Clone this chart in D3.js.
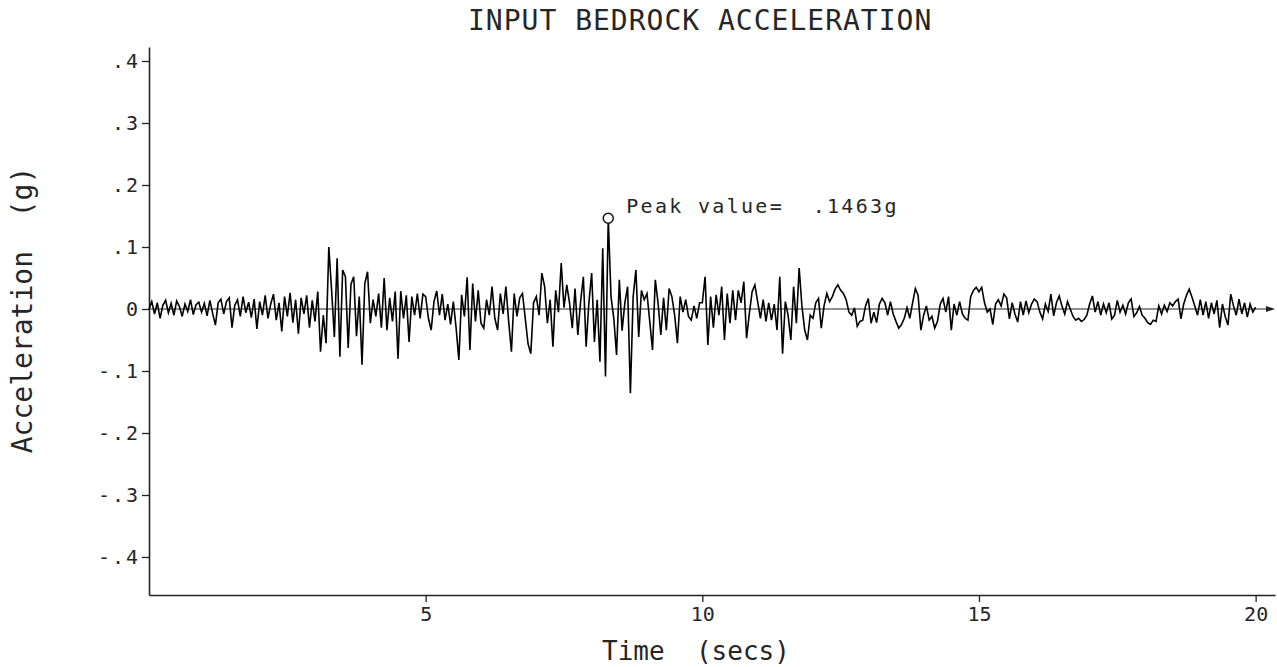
<!DOCTYPE html>
<html>
<head>
<meta charset="utf-8">
<script src="https://cdn.jsdelivr.net/npm/d3@7"></script>
<style>
  body { margin: 0; background: #fff; }
  text { font-family: "DejaVu Sans Mono", monospace; fill: #262626; }
</style>
</head>
<body>
<svg width="1277" height="667"></svg>
<script>
// sampled trace, dt = 0.05 s, values in g
const dt = 0.05;
const accel00to05 = [
  0.000, 0.012, -0.008, 0.010, -0.015, 0.006, 0.014, -0.006, 0.009, -0.010, 0.013, 0.004, -0.012, 0.008, -0.004, 0.015, -0.009, 0.007, 0.011, -0.005,
  0.009, -0.011, 0.014, -0.007, -0.026, 0.010, 0.016, -0.008, 0.012, 0.018, -0.030, 0.006, 0.015, -0.012, 0.020, -0.006, 0.011, -0.014, 0.016, -0.032,
  0.012, -0.010, 0.022, -0.015, 0.008, 0.024, -0.018, 0.010, -0.036, 0.020, -0.012, 0.026, -0.022, 0.015, -0.040, 0.018, -0.008, 0.022, -0.030, 0.014,
  -0.020, 0.028, -0.069, -0.010, -0.055, 0.100, 0.030, -0.045, 0.082, -0.077, 0.063, 0.052, -0.063, 0.040, 0.052, -0.044, 0.020, -0.090, 0.041, 0.060,
  -0.023, 0.015, -0.012, 0.025, -0.030, 0.050, -0.034, 0.018, -0.020, 0.028, -0.080, 0.029, -0.015, 0.022, -0.053, 0.020, -0.010, 0.025, -0.015, 0.024
];
const accel05to10 = [
  0.020, -0.015, -0.034, 0.012, 0.029, -0.010, 0.024, -0.018, 0.008, -0.025, 0.012, -0.030, -0.082, 0.023, -0.012, 0.051, -0.066, 0.041, -0.020, 0.030,
  -0.023, -0.031, 0.015, -0.010, 0.036, -0.015, -0.034, 0.025, -0.008, 0.036, -0.020, -0.069, 0.025, -0.012, 0.018, 0.025, -0.015, -0.056, -0.072, 0.010,
  0.020, -0.010, 0.058, 0.036, -0.023, 0.015, -0.061, 0.030, -0.005, 0.074, 0.002, 0.039, 0.010, -0.031, 0.033, -0.042, 0.012, 0.052, -0.061, 0.010,
  0.058, -0.053, 0.015, -0.085, 0.098, -0.109, 0.1463, 0.020, -0.015, -0.074, 0.047, -0.035, 0.010, 0.036, -0.136, 0.020, 0.063, -0.045, 0.030, 0.015,
  0.025, -0.020, -0.066, 0.047, 0.010, -0.042, 0.018, -0.034, 0.033, 0.020, -0.010, -0.055, 0.020, -0.005, 0.015, -0.012, -0.018, 0.005, -0.015, 0.010
];
const accel10to15 = [
  0.010, 0.052, -0.058, 0.020, -0.030, 0.023, -0.010, 0.036, -0.050, 0.025, -0.023, 0.030, -0.018, 0.030, 0.010, 0.044, -0.047, -0.007, 0.028, 0.039,
  0.012, -0.015, 0.015, -0.020, 0.010, -0.018, 0.008, -0.034, 0.052, -0.072, 0.012, -0.010, -0.050, 0.036, -0.023, 0.066, 0.005, -0.034, -0.050, -0.010,
  -0.015, 0.010, 0.017, -0.031, 0.005, 0.025, 0.012, 0.020, 0.032, 0.039, 0.030, 0.025, 0.015, -0.005, -0.010, 0.002, -0.028, -0.020, -0.018, 0.005,
  0.017, -0.023, -0.005, -0.022, 0.008, 0.017, 0.010, -0.010, 0.012, -0.008, -0.020, -0.031, -0.025, -0.015, 0.002, -0.015, 0.010, 0.033, 0.022, -0.034,
  -0.010, 0.005, -0.018, -0.012, -0.031, -0.020, 0.008, 0.017, -0.005, 0.020, -0.034, 0.008, -0.010, 0.012, -0.008, -0.015, -0.018, 0.020, 0.030, 0.035
];
const accel15to20 = [
  0.028, 0.035, 0.010, -0.005, 0.000, -0.025, 0.008, 0.015, 0.005, 0.024, 0.018, -0.016, 0.010, -0.008, -0.021, 0.012, -0.010, 0.013, -0.006, 0.008,
  0.016, 0.012, -0.005, -0.016, 0.008, -0.004, 0.024, -0.011, 0.010, 0.021, 0.005, -0.008, 0.012, 0.000, -0.012, -0.018, -0.015, -0.020, -0.017, -0.010,
  0.008, 0.021, -0.005, 0.012, -0.010, 0.008, -0.006, 0.010, -0.016, -0.010, 0.014, -0.005, 0.006, -0.008, 0.010, 0.016, -0.012, -0.006, 0.004, -0.010,
  -0.015, -0.022, -0.025, -0.018, -0.020, 0.005, -0.008, 0.006, -0.004, 0.010, 0.005, 0.012, 0.016, -0.016, 0.008, 0.022, 0.032, 0.019, 0.005, -0.010,
  0.015, -0.010, 0.012, -0.015, 0.010, -0.008, 0.014, -0.030, 0.008, -0.012, -0.026, 0.024, 0.005, -0.010, 0.016, -0.008, 0.010, -0.013, 0.008, -0.005, 0.003
];

const yTicks = [-0.4, -0.3, -0.2, -0.1, 0, 0.1, 0.2, 0.3, 0.4];
const xTicks = [5, 10, 15, 20];
const peakValue = 0.1463;

const accel = [].concat(accel00to05, accel05to10, accel10to15, accel15to20);
const series = accel.map((a, i) => ({ t: i * dt, a: a }));
const peak = series.reduce((m, d) => Math.abs(d.a) > Math.abs(m.a) ? d : m);

const svg = d3.select("svg");

const x = d3.scaleLinear().domain([0, 20.35]).range([149, 1275]);
const y = d3.scaleLinear().domain([-0.4613, 0.4226]).range([595, 47]);

// axes
const yAxis = svg.append("g")
    .attr("transform", "translate(149,0)")
    .call(d3.axisLeft(y)
        .tickValues(yTicks)
        .tickSize(7)
        .tickSizeOuter(0)
        .tickFormat(d => d === 0 ? "0" : (d < 0 ? "-" : "") + "." + Math.round(Math.abs(d) * 10)));

const xAxis = svg.append("g")
    .attr("transform", "translate(0,595)")
    .call(d3.axisBottom(x)
        .tickValues(xTicks)
        .tickSize(7)
        .tickSizeOuter(0));

svg.selectAll(".domain").attr("stroke", "#222").attr("stroke-width", 1.6);
svg.selectAll(".tick line").attr("stroke", "#222").attr("stroke-width", 1.3);
yAxis.selectAll(".tick text")
    .attr("x", -9)
    .style("font-size", "20px")
    .style("letter-spacing", "2px")
    .style("font-family", "'DejaVu Sans Mono', monospace")
    .attr("fill", "#262626");
xAxis.selectAll(".tick text")
    .attr("y", 12)
    .attr("dy", "0.71em")
    .style("font-size", "20px")
    .style("font-family", "'DejaVu Sans Mono', monospace")
    .attr("fill", "#262626");

// zero line with arrow tip
svg.append("line")
    .attr("x1", x(0)).attr("x2", 1272)
    .attr("y1", y(0)).attr("y2", y(0))
    .attr("stroke", "#222").attr("stroke-width", 1.2);
svg.append("path")
    .attr("d", `M1266,${y(0) - 3}L1275,${y(0)}L1266,${y(0) + 3}Z`)
    .attr("fill", "#222");

// the trace
const line = d3.line()
    .x(d => x(d.t))
    .y(d => y(d.a));

svg.append("path")
    .datum(series)
    .attr("fill", "none")
    .attr("stroke", "#000")
    .attr("stroke-width", 1.6)
    .attr("stroke-linejoin", "miter")
    .attr("d", line);

// peak marker
svg.append("circle")
    .attr("cx", x(peak.t))
    .attr("cy", y(peak.a))
    .attr("r", 5)
    .attr("fill", "#fff")
    .attr("stroke", "#111")
    .attr("stroke-width", 1.5);

svg.append("text")
    .attr("x", x(peak.t) + 18)
    .attr("y", y(peak.a) - 5)
    .style("font-size", "20px")
    .style("letter-spacing", "2.3px")
    .style("white-space", "pre")
    .text("Peak value=  " + d3.format(".4f")(peakValue).replace(/^0/, "") + "g");

// titles
svg.append("text")
    .attr("x", 468)
    .attr("y", 30)
    .style("font-size", "28px")
    .style("letter-spacing", "1px")
    .text("INPUT BEDROCK ACCELERATION");

svg.append("text")
    .attr("x", 602)
    .attr("y", 660)
    .style("font-size", "26px")
    .style("white-space", "pre")
    .text("Time  (secs)");

svg.append("text")
    .attr("transform", "translate(32,310) rotate(-90)")
    .attr("text-anchor", "middle")
    .style("font-size", "28px")
    .style("white-space", "pre")
    .text("Acceleration  (g)");
</script>
</body>
</html>
